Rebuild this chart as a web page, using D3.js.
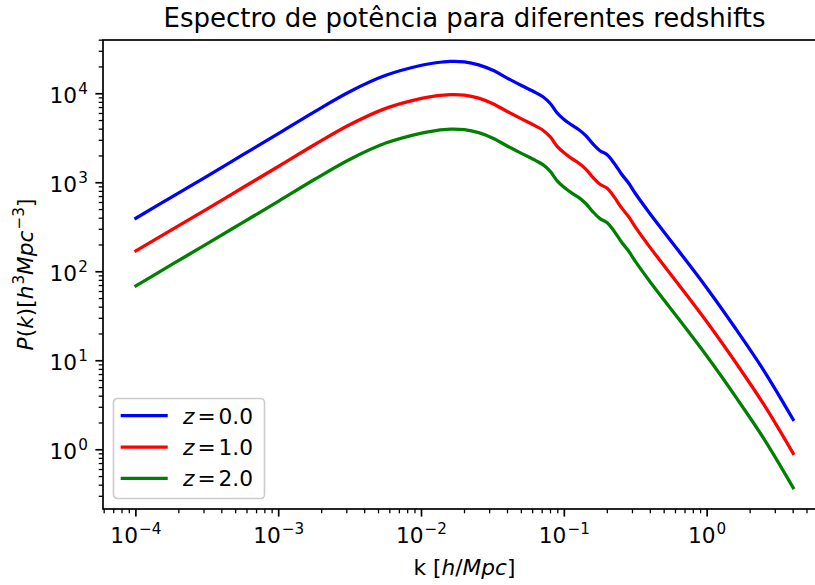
<!DOCTYPE html>
<html>
<head>
<meta charset="utf-8">
<script src="https://cdn.jsdelivr.net/npm/d3@7"></script>
<style>
    body { margin: 0; background: #fff; }
    text { font-family: "DejaVu Sans", sans-serif; fill: #000; }
</style>
</head>
<body>
<div id="chart"></div>
<script>
// wavenumbers k [h/Mpc]
const K_VALUES = [
    0.0001, 0.0001778, 0.0003162, 0.0005623, 0.001, 0.001778, 0.003162, 0.005623,
    0.01, 0.01259, 0.01585, 0.01995, 0.02512, 0.03162, 0.03981, 0.05012, 0.0631,
    0.07079, 0.07943, 0.08913, 0.1, 0.1122, 0.1259, 0.1413, 0.1585, 0.1778, 0.1995,
    0.2239, 0.2512, 0.2818, 0.3162, 0.3981, 0.631, 1.0, 1.585, 2.512, 4.0
];

const P_Z0 = [
    399, 690, 1189, 2065, 3589, 6270, 10610, 16110,
    20890, 22290, 23140, 22840, 21130, 18320, 14990, 12360, 10280,
    9250, 7820, 6080, 5115, 4470, 3970, 3390, 2735, 2290, 2060,
    1645, 1252, 992, 747, 449, 172, 64.9, 22.9, 7.62, 2.19
];

const P_Z1 = [
    172, 296, 510, 884, 1532, 2671, 4509, 6847,
    8857, 9451, 9788, 9661, 8938, 7731, 6326, 5216, 4328,
    3894, 3292, 2560, 2153, 1877, 1667, 1424, 1149, 962, 865,
    689, 525, 416, 313, 188, 71.9, 27.1, 9.55, 3.17, 0.91
];

const P_Z2 = [
    69.4, 120, 207, 359, 623, 1088, 1840, 2793,
    3617, 3858, 4003, 3949, 3653, 3167, 2590, 2136, 1775,
    1596, 1350, 1050, 883, 771, 685, 585, 472, 395, 355,
    284, 216, 171, 129, 77.3, 29.6, 11.15, 3.93, 1.31, 0.375
];

const SERIES_LABELS = ["0.0", "1.0", "2.0"];
const SERIES_COLORS = ["#0000ff", "#ff0000", "#008000"];
const X_TICK_EXPONENTS = [-4, -3, -2, -1, 0];
const Y_TICK_EXPONENTS = [0, 1, 2, 3, 4];

const width = 815;
const height = 585;
const margin = { top: 40, left: 103 };
const plotWidth = 723;
const plotHeight = 469;
const FONT = 21.7;

const svg = d3.select("#chart").append("svg")
    .attr("width", width)
    .attr("height", height);

// matplotlib style 5% margins in log space
function paddedLogDomain(values) {
    const lo = Math.log10(d3.min(values));
    const hi = Math.log10(d3.max(values));
    const pad = (hi - lo) * 0.05;
    return [Math.pow(10, lo - pad), Math.pow(10, hi + pad)];
}

const xScale = d3.scaleLog()
    .domain(paddedLogDomain(K_VALUES))
    .range([0, plotWidth]);

const yScale = d3.scaleLog()
    .domain(paddedLogDomain(P_Z0.concat(P_Z1, P_Z2)))
    .range([plotHeight, 0]);

const nullpoint = svg.append("g")
    .attr("transform", `translate(${margin.left}, ${margin.top})`);

// writes text made of pieces: [string, italic, superscript]
function mathText(sel, parts, size) {
    parts.forEach(([str, italic, sup], i) => {
        const prevSup = i > 0 && parts[i - 1][2];
        let dy = 0;
        if (sup && !prevSup) dy = -size * 0.42;
        if (!sup && prevSup) dy = size * 0.42;
        sel.append("tspan")
            .attr("dy", dy)
            .attr("dx", sup && !prevSup ? 1 : 0)
            .style("font-size", (sup ? size * 0.7 : size) + "px")
            .style("font-style", italic ? "italic" : "normal")
            .text(str);
    });
}

function isMajor(v) {
    return Math.abs(Math.log10(v) - Math.round(Math.log10(v))) < 1e-6;
}

// ticks
const xTicks = xScale.ticks().filter(v => xScale(v) >= 0 && xScale(v) <= plotWidth);
const yTicks = yScale.ticks().filter(v => yScale(v) >= 0 && yScale(v) <= plotHeight);

nullpoint.selectAll(".xtick")
    .data(xTicks)
    .enter()
    .append("line")
    .attr("x1", d => xScale(d))
    .attr("x2", d => xScale(d))
    .attr("y1", plotHeight)
    .attr("y2", d => plotHeight + (isMajor(d) ? 7.6 : 4.3))
    .attr("stroke", "#000")
    .attr("stroke-width", d => isMajor(d) ? 1.7 : 1.3);

nullpoint.selectAll(".ytick")
    .data(yTicks)
    .enter()
    .append("line")
    .attr("y1", d => yScale(d))
    .attr("y2", d => yScale(d))
    .attr("x1", 0)
    .attr("x2", d => -(isMajor(d) ? 7.6 : 4.3))
    .attr("stroke", "#000")
    .attr("stroke-width", d => isMajor(d) ? 1.7 : 1.3);

X_TICK_EXPONENTS.forEach(e => {
    const t = nullpoint.append("text")
        .attr("x", xScale(Math.pow(10, e)))
        .attr("y", plotHeight + 34)
        .attr("text-anchor", "middle");
    mathText(t, [["10", false, false], [String(e).replace("-", "\u2212"), false, true]], FONT);
});

Y_TICK_EXPONENTS.forEach(e => {
    const t = nullpoint.append("text")
        .attr("x", -15.2)
        .attr("y", yScale(Math.pow(10, e)) + 9)
        .attr("text-anchor", "end");
    mathText(t, [["10", false, false], [String(e), false, true]], FONT);
});

// curves
const curves = [P_Z0, P_Z1, P_Z2].map(p => K_VALUES.map((k, i) => ({ k: k, p: p[i] })));

const lineGen = d3.line()
    .x(d => xScale(d.k))
    .y(d => yScale(d.p))
    .curve(d3.curveCatmullRom);

nullpoint.selectAll(".curve")
    .data(curves)
    .enter()
    .append("path")
    .attr("class", "curve")
    .attr("fill", "none")
    .attr("stroke", (d, i) => SERIES_COLORS[i])
    .attr("stroke-width", 3.25)
    .attr("stroke-linecap", "square")
    .attr("d", lineGen);

// frame
nullpoint.append("rect")
    .attr("width", plotWidth)
    .attr("height", plotHeight)
    .attr("fill", "none")
    .attr("stroke", "#000")
    .attr("stroke-width", 1.7);

// title and axis labels
svg.append("text")
    .attr("x", margin.left + plotWidth / 2)
    .attr("y", 27)
    .attr("text-anchor", "middle")
    .style("font-size", "26px")
    .text("Espectro de potência para diferentes redshifts");

const xLabel = svg.append("text")
    .attr("x", margin.left + plotWidth / 2)
    .attr("y", 575)
    .attr("text-anchor", "middle");
mathText(xLabel, [["k [", false, false], ["h", true, false], ["/", false, false],
    ["Mpc", true, false], ["]", false, false]], FONT);

const yLabel = svg.append("text")
    .attr("transform", `translate(33, ${margin.top + plotHeight / 2}) rotate(-90)`)
    .attr("text-anchor", "middle");
mathText(yLabel, [["P", true, false], ["(", false, false], ["k", true, false],
    [")", false, false], ["[", false, false], ["h", true, false], ["3", false, true],
    ["Mpc", true, false], ["\u22123", false, true], ["]", false, false]], FONT);

// legend
const legend = svg.append("g")
    .attr("transform", "translate(113.5, 398.5)");

legend.append("rect")
    .attr("width", 151)
    .attr("height", 100)
    .attr("rx", 4)
    .attr("fill", "#fff")
    .attr("stroke", "#cccccc")
    .attr("stroke-width", 1.6);

SERIES_LABELS.forEach((label, i) => {
    const row = legend.append("g")
        .attr("transform", `translate(0, ${17.2 + i * 31.3})`);
    row.append("line")
        .attr("x1", 8.8)
        .attr("x2", 52.6)
        .attr("stroke", SERIES_COLORS[i])
        .attr("stroke-width", 3.25)
        .attr("stroke-linecap", "square");
    const t = row.append("text")
        .attr("x", 69.5)
        .attr("y", 7.8)
        .style("font-size", FONT + "px");
    t.append("tspan").style("font-style", "italic").text("z");
    t.append("tspan").attr("dx", 3).text("=");
    t.append("tspan").attr("dx", 3).text(label);
});
</script>
</body>
</html>
